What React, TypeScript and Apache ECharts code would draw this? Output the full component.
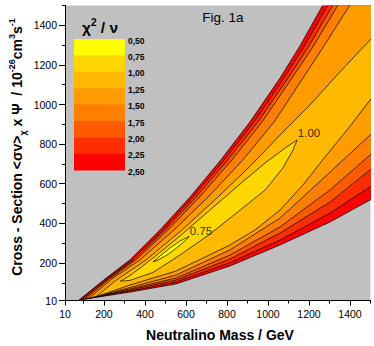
import React, { useEffect, useRef } from 'react';
import * as echarts from 'echarts';

const FONT = 'Liberation Sans, Arial, sans-serif';

const xRange = [10, 1500];
const yRange = [10, 1500];
const xMajorTicks = [10, 200, 400, 600, 800, 1000, 1200, 1400];
const xMinorTicks = [100, 300, 500, 700, 900, 1100, 1300, 1500];
const yMajorTicks = [10, 200, 400, 600, 800, 1000, 1200, 1400];
const yMinorTicks = [100, 300, 500, 700, 900, 1100, 1300, 1500];

const legendLabels = ['0,50', '0,75', '1,00', '1,25', '1,50', '1,75', '2,00', '2,25', '2,50'];
const bandColors = ['#FFFF00', '#FFD700', '#FFB900', '#FF9D00', '#FF7F00', '#FF5A00', '#FF2E00', '#FF0000'];

// contour lines (Neutralino mass GeV, cross-section)
const c250Upper = [[78, 13], [205, 119], [327, 216], [473, 367], [620, 533], [766, 715], [912, 912], [1059, 1134], [1156, 1296], [1268, 1503], [1303, 1569]];
const c250Lower = [[78, 13], [327, 53], [551, 94], [815, 185], [1059, 291], [1303, 407], [1498, 518], [1547, 548]];
const c225Upper = [[88, 16], [212, 119], [337, 216], [488, 367], [634, 533], [783, 715], [932, 912], [1078, 1134], [1178, 1296], [1293, 1503], [1327, 1569]];
const c225Lower = [[88, 15], [327, 58], [551, 104], [815, 202], [1059, 316], [1303, 452], [1498, 584], [1547, 614]];
const c200Upper = [[98, 18], [220, 119], [347, 216], [498, 367], [649, 533], [800, 715], [951, 912], [1098, 1134], [1200, 1296], [1317, 1503], [1351, 1569]];
const c200Lower = [[98, 17], [327, 64], [551, 114], [815, 220], [1059, 351], [1303, 508], [1498, 670], [1547, 710]];
const c175Upper = [[112, 21], [227, 119], [356, 216], [512, 367], [666, 533], [820, 715], [971, 912], [1117, 1134], [1222, 1296], [1342, 1503], [1376, 1569]];
const c175Lower = [[112, 19], [327, 69], [551, 124], [815, 240], [1059, 382], [1303, 569], [1498, 745], [1547, 786]];
const c150Upper = [[132, 26], [239, 119], [376, 216], [542, 367], [708, 533], [873, 715], [1030, 912], [1171, 1134], [1273, 1296], [1400, 1503], [1439, 1569]];
const c150Lower = [[132, 23], [327, 76], [551, 139], [815, 266], [1059, 427], [1303, 659], [1498, 846], [1547, 892]];
const c125Upper = [[166, 33], [254, 109], [405, 215], [581, 367], [756, 533], [912, 688], [1059, 846], [1205, 998], [1351, 1165], [1498, 1326], [1571, 1402]];
const c125Lower = [[166, 31], [327, 89], [551, 159], [815, 291], [937, 367], [1059, 467], [1171, 594], [1278, 735], [1386, 872], [1498, 1023], [1571, 1123]];
const c100Loop = [[280, 108], [327, 136], [439, 225], [571, 336], [717, 467], [864, 599], [986, 705], [1084, 781], [1142, 821], [1122, 770], [1073, 680], [986, 568], [864, 467], [717, 346], [571, 240], [439, 152], [327, 112]];
const c075Loop = [[439, 205], [473, 235], [522, 276], [571, 311], [615, 334], [600, 316], [561, 281], [512, 243], [464, 215]];

const contourLabelText = ['0.75', '1.00'];
const contourLabelAt = [[673, 361], [1200, 856]];

export default function App() {
  const ref = useRef<HTMLDivElement>(null);
  useEffect(() => {
    document.body.style.margin = '0';
    const chart = echarts.init(ref.current!, null, { renderer: 'svg' });
    const far: number[] = [xRange[1] + 400, yRange[1] + 400];
    const open = (up: number[][], lo: number[][]) => [...up, far, ...lo.slice().reverse()];
    const polys = [
      open(c250Upper, c250Lower),
      open(c225Upper, c225Lower),
      open(c200Upper, c200Lower),
      open(c175Upper, c175Lower),
      open(c150Upper, c150Lower),
      open(c125Upper, c125Lower),
      c100Loop,
      c075Loop,
    ];
    const fills = [7, 6, 5, 4, 3, 2, 1, 0].map((i) => bandColors[i]);

    const axisCommon = {
      type: 'value' as const,
      splitLine: { show: false },
    };
    const legendX = 74, legendY = 39, legendW = 51, legendH = 16.4;
    const graphics: any[] = [];
    bandColors.forEach((c, i) => {
      graphics.push({
        type: 'rect',
        shape: { x: legendX, y: legendY + i * legendH, width: legendW, height: legendH + 0.3 },
        style: { fill: c },
      });
    });
    legendLabels.forEach((t, i) => {
      graphics.push({
        type: 'text',
        x: 128, y: legendY + 1.5 + i * legendH,
        style: { text: t, font: `bold 8.5px ${FONT}`, fill: '#000', align: 'left', verticalAlign: 'middle' },
      });
    });
    graphics.push({
      type: 'text', x: 100, y: 27,
      style: {
        text: '{a|χ}{s|2}{a| / ν}',
        align: 'center', verticalAlign: 'middle',
        rich: {
          a: { fontSize: 15.5, fontWeight: 'bold', fontFamily: FONT, lineHeight: 19, verticalAlign: 'middle', fill: '#000' },
          s: { fontSize: 10, fontWeight: 'bold', fontFamily: FONT, lineHeight: 11, verticalAlign: 'top', fill: '#000' },
        },
      },
    });
    graphics.push({
      type: 'text', x: 223, y: 17,
      style: { text: 'Fig. 1a', font: `13.5px ${FONT}`, fill: '#000', align: 'center', verticalAlign: 'middle' },
    });
    graphics.push({
      type: 'text', x: 220, y: 335,
      style: { text: 'Neutralino Mass / GeV', font: `bold 14px ${FONT}`, fill: '#000', align: 'center', verticalAlign: 'middle' },
    });
    graphics.push({
      type: 'text', x: 17, y: 147, rotation: Math.PI / 2,
      style: {
        text: '{a|Cross - Section <σv>}{b|χ}{a| x Ψ  / 10}{s|-26}{a|cm}{s|3}{a|s}{s|-1}',
        align: 'center', verticalAlign: 'middle',
        rich: {
          a: { fontSize: 14, fontWeight: 'bold', fontFamily: FONT, lineHeight: 20, verticalAlign: 'middle', fill: '#000' },
          s: { fontSize: 9, fontWeight: 'bold', fontFamily: FONT, lineHeight: 11, verticalAlign: 'top', fill: '#000' },
          b: { fontSize: 9, fontWeight: 'bold', fontFamily: FONT, lineHeight: 11, verticalAlign: 'bottom', fill: '#000' },
        },
      },
    });

    const plain = (v: number) => String(v);

    chart.setOption({
      animation: false,
      grid: { left: 65, right: 3.5, top: 5.5, bottom: 45.4, show: true, backgroundColor: '#c0c0c0', borderWidth: 0 },
      xAxis: [
        {
          ...axisCommon, min: xRange[0], max: xRange[1], position: 'bottom',
          axisLine: { show: true, lineStyle: { color: '#000', width: 1 } },
          axisTick: { show: true, length: 5, customValues: xMajorTicks, lineStyle: { color: '#000' } },
          axisLabel: { customValues: xMajorTicks, formatter: plain, fontSize: 10.5, fontFamily: FONT, color: '#000', margin: 8 },
        },
        {
          ...axisCommon, min: xRange[0], max: xRange[1], position: 'bottom',
          axisLine: { show: false },
          axisTick: { show: true, length: 3, customValues: xMinorTicks, lineStyle: { color: '#000' } },
          axisLabel: { show: false },
        },
      ],
      yAxis: [
        {
          ...axisCommon, min: yRange[0], max: yRange[1], position: 'left',
          axisLine: { show: true, lineStyle: { color: '#000', width: 1 } },
          axisTick: { show: true, length: 6, customValues: yMajorTicks, lineStyle: { color: '#000' } },
          axisLabel: { customValues: yMajorTicks, formatter: plain, fontSize: 10.5, fontFamily: FONT, color: '#000', margin: 8 },
        },
        {
          ...axisCommon, min: yRange[0], max: yRange[1], position: 'left',
          axisLine: { show: false },
          axisTick: { show: true, length: 3, customValues: yMinorTicks, lineStyle: { color: '#000' } },
          axisLabel: { show: false },
        },
      ],
      series: [
        {
          type: 'custom',
          coordinateSystem: 'cartesian2d',
          xAxisIndex: 0, yAxisIndex: 0,
          clip: true,
          silent: true,
          data: polys.map((p, i) => [p[0][0], p[0][1], i]),
          renderItem: (params: any, api: any) => {
            const pts = polys[params.dataIndex].map((p) => api.coord(p));
            return {
              type: 'polygon',
              shape: { points: pts },
              style: { fill: fills[params.dataIndex], stroke: '#000', lineWidth: 0.7 },
            };
          },
        },
        {
          type: 'scatter',
          xAxisIndex: 0, yAxisIndex: 0,
          symbolSize: 0,
          silent: true,
          data: contourLabelAt.map((p, i) => [p[0], p[1], contourLabelText[i]]),
          label: {
            show: true, position: 'inside', formatter: (p: any) => p.value[2],
            fontSize: 11.5, fontFamily: FONT, color: '#000',
          },
        },
      ],
      graphic: graphics,
    });
    return () => chart.dispose();
  }, []);
  return <div ref={ref} style={{ width: 374, height: 346 }} />;
}
